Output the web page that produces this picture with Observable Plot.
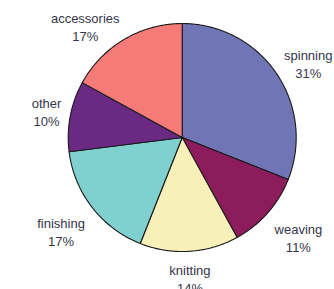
<!DOCTYPE html>
<html><head><meta charset="utf-8">
<script src="https://cdn.jsdelivr.net/npm/d3@7"></script>
<script src="https://cdn.jsdelivr.net/npm/@observablehq/plot@0.6"></script>
<style>body{margin:0;background:#fff}</style>
</head><body><div id="chart"></div>
<script>
const categories = ["spinning","weaving","knitting","finishing","other","accessories"];
const shares = [31,11,14,17,10,17];
const colors = ["#7076b5","#8c1c5c","#f8f0b9","#80d0d0","#6a2a84","#f47b78"];

const W = 334, H = 289;
const xDomain = [-1.594, 1.336];
const unit = W / (xDomain[1] - xDomain[0]); // px per data unit
const fontSize = 13, lineHeight = 1.38;
const font = "'Liberation Sans', Arial, sans-serif";
const ctx = document.createElement("canvas").getContext("2d");
ctx.font = `${fontSize}px ${font}`;
const textW = s => ctx.measureText(s).width;
const halfH = (fontSize * lineHeight * 2) / 2 / unit;

const total = d3.sum(shares);
let acc = 0;
const slices = categories.map((c,i)=>{
  const a0 = acc/total*2*Math.PI; acc += shares[i];
  const a1 = acc/total*2*Math.PI;
  const label = `${c}\n${shares[i]}%`;
  const w = Math.max(...label.split("\n").map(textW));
  return {c, v: shares[i], a0, a1, mid:(a0+a1)/2, label, w};
});
const pts = [];
slices.forEach(s => {
  pts.push({c:s.c, x:0, y:0});
  const n = Math.max(2, Math.ceil((s.a1-s.a0)/0.01));
  for (let k=0;k<=n;k++){ const a = s.a0 + (s.a1-s.a0)*k/n; pts.push({c:s.c, x:Math.sin(a), y:Math.cos(a)}); }
  pts.push({c:s.c, x:0, y:0});
});

const R = 1.08;
const dir = d => Math.sin(d.mid) > 0.3 ? 1 : Math.sin(d.mid) < -0.3 ? -1 : 0;
const vdir = d => { const v = Math.max(-1, Math.min(1, 3 * Math.cos(d.mid))); return v > 0 ? 0.3 * v : v; };

const chart = Plot.plot({
  width: W, height: H,
  margin: 0,
  x: {domain: xDomain, axis: null},
  y: {domain: [-1.333, 1.202], axis: null},
  color: {domain: categories, range: colors},
  style: {fontFamily: font},
  marks: [
    Plot.line(pts, {x:"x", y:"y", z:"c", fill:"c", stroke:"#1a1a1a", strokeWidth:1.1, curve:"linear-closed"}),
    Plot.text(slices, {
      x: d => R*Math.sin(d.mid) + dir(d) * (d.w/2) / unit,
      y: d => R*Math.cos(d.mid) + vdir(d) * halfH,
      text: "label",
      fontSize, lineHeight, fill: "#35354a"
    })
  ]
});
document.getElementById("chart").append(chart);
</script>
</body></html>
